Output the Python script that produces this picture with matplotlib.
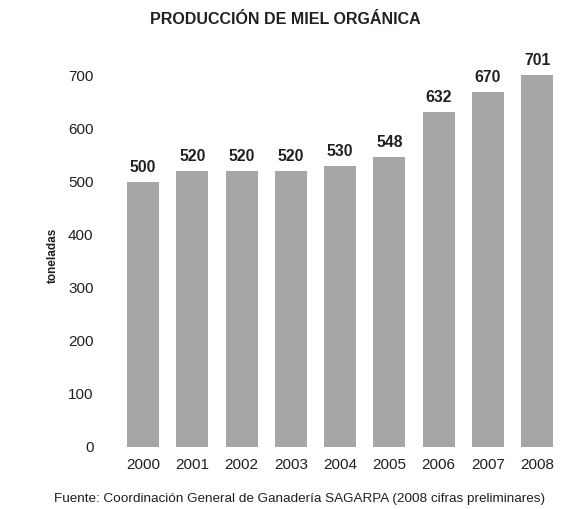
import matplotlib

matplotlib.use("Agg")
import matplotlib.pyplot as plt  # noqa: E402

plt.rcParams.update({
    "font.family": ["Liberation Sans", "DejaVu Sans"],
})

years = ["2000", "2001", "2002", "2003", "2004", "2005", "2006", "2007", "2008"]
tons = [500, 520, 520, 520, 530, 548, 632, 670, 701]
y_ticks = [0, 100, 200, 300, 400, 500, 600, 700]

TEXT = "#231f20"
BAR = "#a7a6a6"

fig = plt.figure(figsize=(5.64, 5.09), dpi=100)
ax = fig.add_axes([0.188, 0.122, 0.808, 0.76])

pos = list(range(len(years)))
bars = ax.bar(pos, tons, width=0.65, color=BAR)
for rect, val in zip(bars, tons):
    ax.annotate(f"{val}", (rect.get_x() + rect.get_width() / 2, val),
                xytext=(0, 5), textcoords="offset points",
                ha="center", va="bottom", fontsize=11.3, fontweight="bold",
                color=TEXT, annotation_clip=False)

ax.set_xlim(-0.75, 8.5)
ax.set_ylim(0, 730)
ax.set_xticks(pos)
ax.set_xticklabels(years)
ax.set_yticks(y_ticks)
ax.tick_params(length=0, labelsize=11, labelcolor=TEXT)
ax.tick_params(axis="x", pad=8)
ax.tick_params(axis="y", pad=9)
for spine in ax.spines.values():
    spine.set_visible(False)

fig.text(0.094, 0.499, "toneladas", rotation=90, ha="center", va="center",
         fontsize=8.5, fontweight="bold", color=TEXT)
fig.text(0.505, 0.962, "PRODUCCIÓN DE MIEL ORGÁNICA", ha="center", va="center",
         fontsize=11.5, fontweight="bold", color=TEXT)
fig.text(0.532, 0.019,
         "Fuente: Coordinación General de Ganadería SAGARPA (2008 cifras preliminares)",
         ha="center", va="center", fontsize=9.7, color=TEXT)

fig.savefig("out.png", dpi=100)
